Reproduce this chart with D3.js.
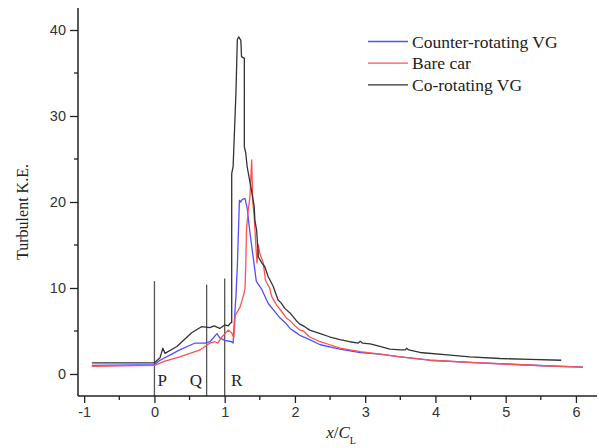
<!DOCTYPE html>
<html>
<head>
<meta charset="utf-8">
<script src="https://cdn.jsdelivr.net/npm/d3@7"></script>
<style>
  html, body { margin: 0; padding: 0; background: #fff; }
  svg { display: block; }
</style>
</head>
<body>
<svg id="chart" width="599" height="448"></svg>
<script>
// ---- data ----
const seriesNames = ["Counter-rotating VG", "Bare car", "Co-rotating VG"];
const seriesColors = ["#5050ff", "#ff5050", "#333333"];

const counterRotating = [
  [-0.89,1.0],[0.0,1.1],[0.08,1.6],[0.22,2.2],[0.36,2.8],[0.58,3.6],[0.72,3.6],[0.79,3.75],
  [0.89,4.7],[0.93,4.2],[1.0,3.9],[1.10,3.75],[1.12,3.6],[1.15,7.8],[1.16,9.0],[1.18,12.5],
  [1.21,20.2],[1.23,20.0],[1.25,20.3],[1.29,20.4],[1.32,19.3],[1.36,16.4],[1.41,13.3],
  [1.45,10.8],[1.53,9.8],[1.62,8.2],[1.74,7.0],[1.79,6.5],[1.86,6.0],[1.93,5.3],[2.0,4.9],
  [2.07,4.5],[2.21,4.0],[2.36,3.4],[2.64,2.9],[2.93,2.5],[3.21,2.3],[3.50,2.0],[3.92,1.6],
  [4.49,1.35],[5.06,1.13],[5.63,0.93],[6.10,0.8]
];
const bareCar = [
  [-0.89,0.9],[0.0,1.0],[0.15,1.5],[0.36,2.0],[0.65,2.8],[0.79,3.6],[0.86,3.75],[0.90,3.6],
  [0.96,4.3],[1.05,5.1],[1.10,4.8],[1.13,4.2],[1.15,6.8],[1.22,7.8],[1.27,9.2],[1.29,10.0],
  [1.30,12.5],[1.31,16.7],[1.335,19.1],[1.36,20.6],[1.384,24.9],[1.40,20.0],[1.42,18.3],
  [1.445,14.8],[1.46,12.9],[1.48,15.0],[1.50,14.0],[1.55,12.9],[1.58,10.9],[1.64,10.0],
  [1.67,9.0],[1.74,8.0],[1.79,7.5],[1.88,6.5],[1.93,6.2],[2.0,5.6],[2.07,5.1],[2.12,5.0],
  [2.21,4.3],[2.36,3.75],[2.50,3.4],[2.64,3.0],[2.93,2.6],[3.21,2.3],[3.50,2.0],[3.92,1.6],
  [4.49,1.35],[5.06,1.13],[5.63,0.93],[6.10,0.8]
];
const coRotating = [
  [-0.89,1.3],[0.0,1.3],[0.08,1.9],[0.12,3.0],[0.15,2.4],[0.32,3.2],[0.53,4.8],[0.67,5.5],
  [0.79,5.4],[0.85,5.6],[0.93,5.3],[1.0,5.7],[1.05,5.6],[1.08,5.9],[1.10,6.0],[1.10,23.3],
  [1.12,24.1],[1.16,32.6],[1.18,38.9],[1.20,39.2],[1.23,38.8],[1.24,36.9],[1.28,36.7],
  [1.28,26.4],[1.30,25.7],[1.32,24.1],[1.38,21.4],[1.42,19.5],[1.43,17.9],[1.455,16.7],
  [1.48,13.6],[1.53,12.9],[1.57,12.5],[1.62,11.3],[1.69,10.2],[1.76,8.6],[1.80,8.3],
  [1.86,7.6],[1.93,7.1],[1.97,6.7],[2.02,6.2],[2.07,5.8],[2.14,5.5],[2.21,5.1],[2.36,4.7],
  [2.50,4.3],[2.64,4.0],[2.78,3.75],[2.90,3.6],[2.93,3.8],[2.96,3.6],[3.07,3.5],[3.21,3.2],
  [3.35,2.9],[3.50,2.8],[3.57,2.8],[3.59,3.0],[3.62,2.8],[3.78,2.5],[4.21,2.2],[4.49,2.0],
  [4.92,1.8],[5.35,1.7],[5.79,1.6]
];
const allSeries = [counterRotating, bareCar, coRotating];

const markerX = [0, 0.743, 1.0];
const markerTop = [10.8, 10.4, 11.1];
const markerLabels = ["P", "Q", "R"];
const markerLabelX = [0.11, 0.59, 1.17];

const xTicks = [-1, 0, 1, 2, 3, 4, 5, 6];
const xMinorTicks = [-0.5, 0.5, 1.5, 2.5, 3.5, 4.5, 5.5];
const yTicks = [0, 10, 20, 30, 40];
const yMinorTicks = [5, 15, 25, 35];

// ---- drawing ----
const svg = d3.select("#chart");
const mLeft = 78, mRight = 597, mTop = 8, mBottom = 396;

const x = d3.scaleLinear().domain([-1.088, 6.3]).range([mLeft, mRight]);
const y = d3.scaleLinear().domain([-2.56, 42.56]).range([mBottom, mTop]);

const tickFont = "'Liberation Sans', Arial, sans-serif";
const serif = "'Liberation Serif', 'Times New Roman', serif";
const plainNum = d => String(d);

// marker vertical lines
svg.append("g").selectAll("line").data(markerX).join("line")
  .attr("x1", d => x(d)).attr("x2", d => x(d))
  .attr("y1", mBottom).attr("y2", (d, i) => y(markerTop[i]))
  .attr("stroke", "#555").attr("stroke-width", 1.3);

svg.append("g").selectAll("text").data(markerLabels).join("text")
  .attr("x", (d, i) => x(markerLabelX[i]))
  .attr("y", y(-0.7))
  .attr("text-anchor", "middle").attr("dominant-baseline", "central")
  .attr("font-family", serif).attr("font-size", 17).attr("fill", "#222")
  .text(d => d);

// series lines
const line = d3.line().x(d => x(d[0])).y(d => y(d[1]));
svg.append("g").selectAll("path").data(allSeries).join("path")
  .attr("d", line)
  .attr("fill", "none")
  .attr("stroke", (d, i) => seriesColors[i])
  .attr("stroke-width", 1.3)
  .attr("stroke-linejoin", "round");

// axes
const xAxis = d3.axisBottom(x).tickValues(xTicks).tickSize(7).tickSizeOuter(0).tickPadding(4)
  .tickFormat(plainNum);
const gx = svg.append("g").attr("transform", `translate(0,${mBottom})`).call(xAxis);
gx.select(".domain").remove();
gx.selectAll(".tick line").attr("stroke", "#222").attr("stroke-width", 1.3);
gx.selectAll(".tick text").attr("font-family", tickFont).attr("font-size", 14.5).attr("fill", "#333");
svg.append("g").selectAll("line").data(xMinorTicks).join("line")
  .attr("x1", d => x(d)).attr("x2", d => x(d))
  .attr("y1", mBottom).attr("y2", mBottom + 4)
  .attr("stroke", "#222").attr("stroke-width", 1.3);

const yAxis = d3.axisLeft(y).tickValues(yTicks).tickSize(8).tickSizeOuter(0).tickPadding(4)
  .tickFormat(plainNum);
const gy = svg.append("g").attr("transform", `translate(${mLeft},0)`).call(yAxis);
gy.select(".domain").remove();
gy.selectAll(".tick line").attr("stroke", "#222").attr("stroke-width", 1.3);
gy.selectAll(".tick text").attr("font-family", tickFont).attr("font-size", 14.5).attr("fill", "#333");
svg.append("g").selectAll("line").data(yMinorTicks).join("line")
  .attr("x1", mLeft).attr("x2", mLeft - 4)
  .attr("y1", d => y(d)).attr("y2", d => y(d))
  .attr("stroke", "#222").attr("stroke-width", 1.3);

// spines
svg.append("line").attr("x1", mLeft).attr("x2", mLeft).attr("y1", mTop).attr("y2", mBottom)
  .attr("stroke", "#222").attr("stroke-width", 1.5);
svg.append("line").attr("x1", mLeft).attr("x2", mRight).attr("y1", mBottom).attr("y2", mBottom)
  .attr("stroke", "#222").attr("stroke-width", 1.5);

// axis titles
svg.append("text")
  .attr("transform", `translate(22,212) rotate(-90)`)
  .attr("text-anchor", "middle").attr("dominant-baseline", "central")
  .attr("font-family", serif).attr("font-size", 16).attr("fill", "#222")
  .text("Turbulent K.E.");

const xt = svg.append("text")
  .attr("x", 341).attr("y", 438)
  .attr("text-anchor", "middle")
  .attr("font-family", serif).attr("font-size", 17).attr("fill", "#222");
xt.append("tspan").attr("font-style", "italic").text("x");
xt.append("tspan").text("/");
xt.append("tspan").attr("font-style", "italic").text("C");
xt.append("tspan").attr("font-size", 10).attr("dy", 6).text("L");

// legend
const legend = svg.append("g");
seriesNames.forEach((name, i) => {
  const ly = 41.5 + i * 21.7;
  legend.append("line").attr("x1", 368).attr("x2", 408).attr("y1", ly).attr("y2", ly)
    .attr("stroke", seriesColors[i]).attr("stroke-width", 1.3);
  legend.append("text").attr("x", 412).attr("y", ly)
    .attr("dominant-baseline", "central")
    .attr("font-family", serif).attr("font-size", 17.5).attr("fill", "#222")
    .text(name);
});
</script>
</body>
</html>
